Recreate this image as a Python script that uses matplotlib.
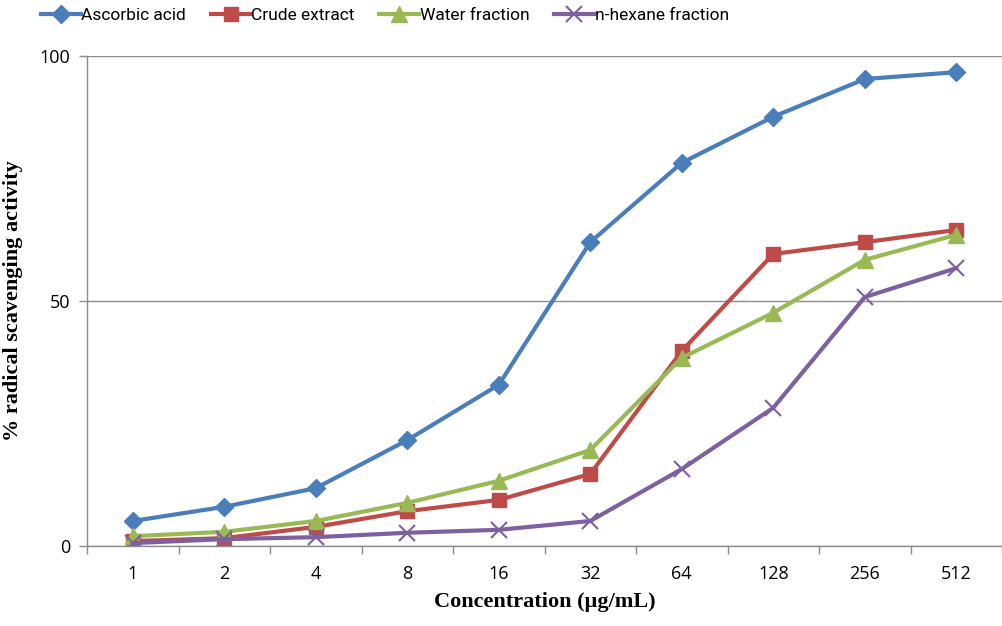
import matplotlib
matplotlib.use('Agg')
import matplotlib.pyplot as plt
import numpy as np

# data
concentrations = ['1', '2', '4', '8', '16', '32', '64', '128', '256', '512']
ascorbic_acid = [5.1, 8.0, 11.8, 21.6, 32.9, 62.0, 78.2, 87.6, 95.3, 96.7]
crude_extract = [1.0, 1.6, 3.9, 7.1, 9.4, 14.7, 39.8, 59.6, 62.0, 64.5]
water_fraction = [2.0, 2.9, 5.1, 8.8, 13.3, 19.6, 38.4, 47.6, 58.4, 63.5]
hexane_fraction = [0.6, 1.4, 1.8, 2.7, 3.3, 5.1, 15.7, 28.2, 50.8, 56.7]

series = [
    ('Ascorbic acid', ascorbic_acid, '#4A7EBB', 'D', 9.5),
    ('Crude extract', crude_extract, '#BE4B48', 's', 10),
    ('Water fraction', water_fraction, '#98B954', '^', 11.5),
    ('n-hexane fraction', hexane_fraction, '#7D60A0', 'x', 11),
]

fig = plt.figure(figsize=(10.03, 6.26), dpi=100)
ax = fig.add_axes([87 / 1003, 80 / 626, 915 / 1003, 490 / 626])

x = np.arange(len(concentrations))
for name, vals, col, mk, ms in series:
    kw = dict(markeredgewidth=1.5) if mk == 'x' else dict(markeredgecolor=col)
    ax.plot(x, vals, color=col, linewidth=3, marker=mk, markersize=ms,
            label=name, **kw)

ax.set_xlim(-0.5, len(concentrations) - 0.5)
ax.set_ylim(0, 100)
ax.set_yticks([0, 50, 100])
ax.yaxis.grid(True, color='#8C8C8C', linewidth=1)
ax.set_axisbelow(True)

ax.set_xticks(x)
ax.set_xticklabels(concentrations)
ax.set_xticks(np.arange(-0.5, len(concentrations)), minor=True)
ax.tick_params(axis='x', which='major', length=0, pad=14, labelsize=13)
ax.tick_params(axis='x', which='minor', length=6, color='#8C8C8C', width=1)
ax.tick_params(axis='y', length=6, color='#8C8C8C', width=1, labelsize=13, pad=6)
for lab in ax.get_xticklabels() + ax.get_yticklabels():
    lab.set_family('Open Sans')

for s in ['top', 'right']:
    ax.spines[s].set_visible(False)
for s in ['left', 'bottom']:
    ax.spines[s].set_color('#8C8C8C')
    ax.spines[s].set_linewidth(1)

ax.set_xlabel('Concentration (µg/mL)', family='Liberation Serif',
              fontweight='bold', fontsize=16, labelpad=6)
ax.set_ylabel('% radical scavenging activity', family='Liberation Serif',
              fontweight='bold', fontsize=16, labelpad=14)
ax.yaxis.set_label_coords(-0.07, 0.5)

leg = fig.legend(loc='upper left', bbox_to_anchor=(0.025, 1.012), ncol=4,
                 frameon=False, handlelength=2.3, columnspacing=1.4,
                 handletextpad=0.05, prop={'family': 'Roboto', 'size': 12.5})

fig.savefig('out.png', dpi=100)
